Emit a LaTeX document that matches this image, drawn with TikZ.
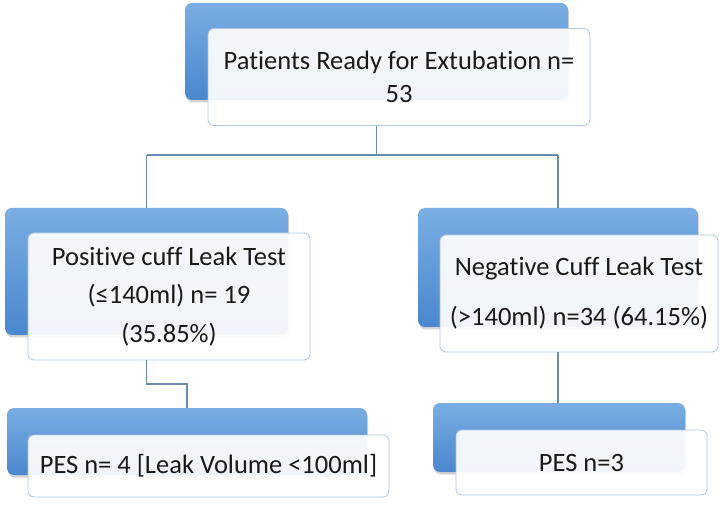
\documentclass[tikz,border=0pt]{standalone}
\usepackage{fontspec}
\setmainfont{Carlito}[Ligatures=NoCommon]
\usetikzlibrary{shadows}
\definecolor{bluetop}{HTML}{7AAEE3}
\definecolor{bluebot}{HTML}{4A87CE}
\definecolor{boxedge}{HTML}{B3C5D8}
\definecolor{linkc}{HTML}{6A8BB2}
\begin{document}
\begin{tikzpicture}[x=1pt,y=-1pt,
  backbox/.style={rounded corners=7pt, top color=bluetop, bottom color=bluebot, draw=none,
    inner sep=0pt, drop shadow={shadow xshift=1pt, shadow yshift=-2.5pt, opacity=0.35}},
  frontbox/.style={rounded corners=6pt, draw=boxedge, line width=0.8pt, fill=white,
    fill opacity=0.92, text opacity=1, inner sep=0pt, align=center, text=black!90},
  link/.style={draw=linkc, line width=1.1pt}]
\useasboundingbox (0,0) rectangle (720,518);
% top
\node[backbox, minimum width=383pt, minimum height=97pt] (topB) at (376.5,51.5) {};
\node[frontbox, minimum width=382pt, minimum height=97pt, font={\fontsize{26.5}{33}\selectfont}] (topW) at (399,77) {Patients Ready for Extubation n=\\53};
% middle left
\node[backbox, minimum width=283pt, minimum height=127pt] (lmB) at (146.5,271.5) {};
\node[frontbox, minimum width=282pt, minimum height=127pt, font={\fontsize{26.5}{38.5}\selectfont}] (lmW) at (169,296.5) {Positive cuff Leak Test\\(≤140ml) n= 19\\(35.85\%)};
% middle right
\node[backbox, minimum width=280pt, minimum height=119pt] (rmB) at (558,267.5) {};
\node[frontbox, minimum width=278pt, minimum height=117pt, font={\fontsize{26.5}{50}\selectfont}] (rmW) at (579,293.5) {Negative Cuff Leak Test\\(>140ml) n=34 (64.15\%)};
% bottom left
\node[backbox, minimum width=360pt, minimum height=67pt] (lbB) at (187,441.5) {};
\node[frontbox, minimum width=361pt, minimum height=62pt, font={\fontsize{26.5}{30}\selectfont}] (lbW) at (208.5,466) {PES n= 4 [Leak Volume <100ml]};
% bottom right
\node[backbox, minimum width=252pt, minimum height=69pt] (rbB) at (559,437.5) {};
\node[frontbox, minimum width=251pt, minimum height=65pt, font={\fontsize{26.5}{30}\selectfont}] (rbW) at (581.5,462.5) {PES n=3};
% connectors
\coordinate (j1) at (376.5,155);
\coordinate (j2) at (146.5,384);
\path[link] (topB.south |- topW.south) -- (j1);
\path[link] (lmB.north |- j1) -- (rmB.north |- j1);
\path[link] (lmB.north |- j1) -- (lmB.north);
\path[link] (rmB.north |- j1) -- (rmB.north);
\path[link] (lmB.south |- lmW.south) -- (j2) -| (lbB.north);
\path[link] (rmB.south |- rmW.south) -- (rmB.south |- rbB.north);
\end{tikzpicture}
\end{document}
